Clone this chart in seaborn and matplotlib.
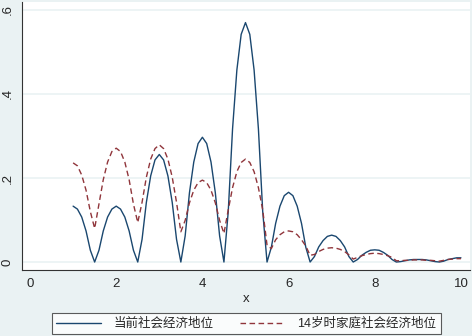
import numpy as np
import pandas as pd
import matplotlib
matplotlib.use('Agg')
import matplotlib.pyplot as plt
import seaborn as sns

sns.set_style('white')
plt.rcParams['font.family'] = ['Liberation Sans', 'Noto Sans CJK SC']

# x grid, 1.0 .. 10.0 in steps of 0.1
x = [round(1 + 0.1 * i, 1) for i in range(91)]

# 当前社会经济地位 (solid, navy)
current = [
    0.133, 0.126, 0.107, 0.074, 0.028, 0.000,
    0.028, 0.074, 0.107, 0.126, 0.133, 0.126, 0.107, 0.074, 0.028, 0.000,
    0.054, 0.142, 0.205, 0.243, 0.256, 0.243, 0.205, 0.142, 0.054, 0.000,
    0.062, 0.165, 0.238, 0.282, 0.297, 0.282, 0.238, 0.165, 0.062, 0.000,
    0.120, 0.317, 0.457, 0.542, 0.570, 0.542, 0.457, 0.317, 0.120, 0.000,
    0.035, 0.092, 0.133, 0.158, 0.166, 0.158, 0.133, 0.092, 0.035, 0.000,
    0.013, 0.036, 0.051, 0.061, 0.064, 0.061, 0.051, 0.036, 0.013, 0.000,
    0.006, 0.016, 0.023, 0.028, 0.029, 0.028, 0.023, 0.016, 0.006, 0.000,
    0.001, 0.003, 0.005, 0.006, 0.006, 0.006, 0.005, 0.003, 0.001, 0.000,
    0.002, 0.006, 0.008, 0.010, 0.010,
]

# 14岁时家庭社会经济地位 (dashed, maroon)
age14 = [
    0.236, 0.229, 0.207, 0.171, 0.120, 0.080,
    0.138, 0.196, 0.238, 0.263, 0.271, 0.263, 0.238, 0.196, 0.138, 0.094,
    0.142, 0.202, 0.245, 0.270, 0.279, 0.270, 0.245, 0.202, 0.142, 0.072,
    0.099, 0.141, 0.171, 0.189, 0.195, 0.189, 0.171, 0.141, 0.099, 0.068,
    0.124, 0.177, 0.215, 0.237, 0.245, 0.237, 0.215, 0.177, 0.124, 0.040,
    0.032, 0.053, 0.065, 0.072, 0.074, 0.072, 0.065, 0.053, 0.038, 0.016,
    0.018, 0.025, 0.030, 0.033, 0.034, 0.033, 0.030, 0.025, 0.017, 0.007,
    0.011, 0.015, 0.018, 0.020, 0.021, 0.020, 0.018, 0.015, 0.011, 0.003,
    0.003, 0.004, 0.004, 0.005, 0.005, 0.005, 0.004, 0.004, 0.003, 0.002,
    0.004, 0.006, 0.007, 0.008, 0.008,
]

labels = ['当前社会经济地位', '14岁时家庭社会经济地位']
xticks = [0, 2, 4, 6, 8, 10]
yticks = [0, 0.2, 0.4, 0.6]
yticklabels = ['0', '.2', '.4', '.6']

bg = '#eaf2f3'
navy = '#1a476f'
maroon = '#90353b'

fig = plt.figure(figsize=(4.72, 3.36), dpi=100, facecolor=bg)
ax = fig.add_axes([22 / 472, 1 - 270 / 336, 448 / 472, 268 / 336])
ax.set_facecolor('white')

sns.lineplot(x=x, y=current, ax=ax, color=navy, lw=1.0, label=labels[0])
sns.lineplot(x=x, y=age14, ax=ax, color=maroon, lw=1.0, label=labels[1])
ax.lines[1].set_dashes([4, 2.5])

ax.set_xlim(-0.186, 10.21)
ax.set_ylim(-0.019, 0.619)
ax.set_xticks(xticks)
ax.set_yticks(yticks)
ax.set_yticklabels(yticklabels, rotation=90, va='center')
ax.tick_params(axis='both', direction='out', length=4, width=0.8,
               color='#333333', labelsize=9.5, pad=2)
ax.set_xlabel('x', fontsize=9.5, labelpad=2)
ax.set_ylabel('')
ax.grid(axis='y', color=bg, lw=1.2)
ax.set_axisbelow(True)
for s in ['top', 'right']:
    ax.spines[s].set_visible(False)
for s in ['left', 'bottom']:
    ax.spines[s].set_color('#333333')
    ax.spines[s].set_linewidth(0.8)

handles, labs = ax.get_legend_handles_labels()
ax.get_legend().remove()
leg = fig.legend(handles, labs, loc='lower center', bbox_to_anchor=(0.522, 0.005),
                 ncol=2, frameon=True, fancybox=False, fontsize=9,
                 handlelength=3.6, columnspacing=2.1, borderpad=0.35,
                 handletextpad=1.0, borderaxespad=0)
leg.get_frame().set_edgecolor('#333333')
leg.get_frame().set_linewidth(0.8)
leg.get_frame().set_facecolor('white')

fig.savefig('out.png', dpi=100, facecolor=bg)
